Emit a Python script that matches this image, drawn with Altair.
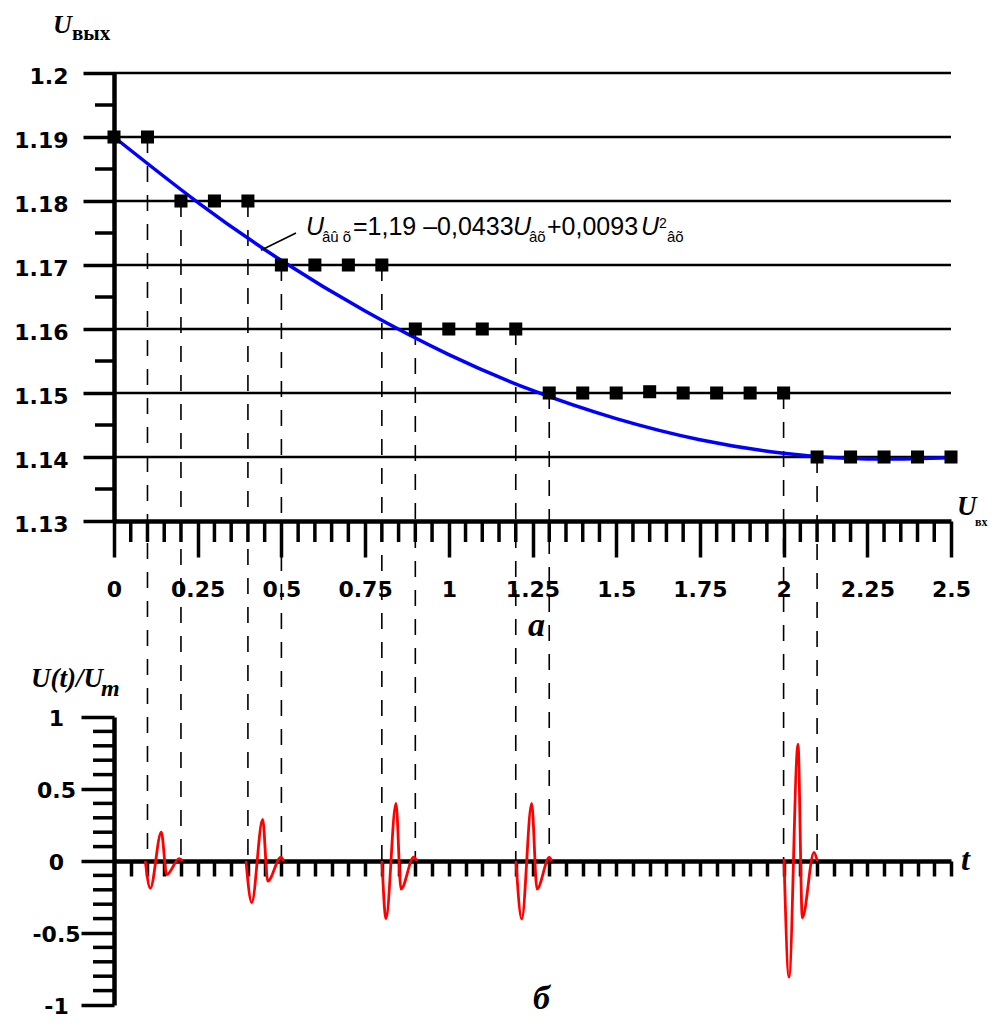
import altair as alt
import pandas as pd

# ---------------- data ----------------
u_in = [0, 0.1, 0.2, 0.3, 0.4, 0.5, 0.6, 0.7, 0.8, 0.9, 1.0, 1.1, 1.2,
        1.3, 1.4, 1.5, 1.6, 1.7, 1.8, 1.9, 2.0, 2.1, 2.2, 2.3, 2.4, 2.5]
u_out = [1.19, 1.19, 1.18, 1.18, 1.18, 1.17, 1.17, 1.17, 1.17, 1.16, 1.16, 1.16, 1.16,
         1.15, 1.15, 1.15, 1.1502, 1.15, 1.15, 1.15, 1.15, 1.14, 1.14, 1.14, 1.14, 1.14]

# fitted curve
fit_x = [0, 0.25, 0.5, 0.75, 1.0, 1.25, 1.5, 1.75, 2.0, 2.25, 2.5]
fit_y = [1.19, 1.1798, 1.1707, 1.1628, 1.1560, 1.1504, 1.1460, 1.1427, 1.1406, 1.1397, 1.1399]

grid_y = [1.14, 1.15, 1.16, 1.17, 1.18, 1.19, 1.2]

dash_x = [0.1, 0.2, 0.4, 0.5, 0.8, 0.9, 1.2, 1.3, 2.0, 2.1]
dash_y = [1.19, 1.18, 1.18, 1.17, 1.17, 1.16, 1.16, 1.15, 1.15, 1.14]

leader_x = [0.439, 0.5436]
leader_y = [1.1723, 1.175]

# pulses U(t)/Um
p1_t = [0.0935, 0.1084, 0.1413, 0.1574, 0.1950, 0.2052]
p1_v = [0.0, -0.19, 0.20, -0.095, 0.016, 0.0]
p2_t = [0.3943, 0.4113, 0.4441, 0.4591, 0.4988, 0.5069]
p2_v = [0.0, -0.289, 0.289, -0.14, 0.027, 0.0]
p3_t = [0.8005, 0.8124, 0.8423, 0.8572, 0.8952, 0.9050]
p3_v = [0.0, -0.40, 0.40, -0.195, 0.027, 0.0]
p4_t = [1.2007, 1.2178, 1.2476, 1.2634, 1.3002, 1.3073]
p4_v = [0.0, -0.403, 0.40, -0.195, 0.025, 0.0]
p5_t = [2.0012, 2.0161, 2.0430, 2.0559, 2.0908, 2.1007]
p5_v = [0.016, -0.807, 0.811, -0.395, 0.06, 0.0]

# tick values
ytop_major = [1.13, 1.14, 1.15, 1.16, 1.17, 1.18, 1.19, 1.2]
ytop_minor = [1.135, 1.145, 1.155, 1.165, 1.175, 1.185, 1.195]
x_major = [0, 0.25, 0.5, 0.75, 1.0, 1.25, 1.5, 1.75, 2.0, 2.25, 2.5]
x_all = [round(i * 0.05, 2) for i in range(51)]
x_minor = [v for v in x_all if round(v * 20) % 5 != 0]
yb_major = [-1, -0.5, 0, 0.5, 1]
yb_minor = [-0.9, -0.8, -0.7, -0.6, -0.4, -0.3, -0.2, -0.1,
            0.1, 0.2, 0.3, 0.4, 0.6, 0.7, 0.8, 0.9]

# ---------------- layout ----------------
W = 837
TOP_H = 448
BOT_H = 288
GAP = 196

LAB_FONT = "DejaVu Sans"
SERIF = "Liberation Serif"
SANS = "Liberation Sans"

pts = pd.DataFrame({"x": u_in, "y": u_out})
fit = pd.DataFrame({"x": fit_x, "y": fit_y})
grid = pd.DataFrame({"y": grid_y})
dashes = pd.DataFrame({"x": dash_x, "y": dash_y})
leader = pd.DataFrame({"x": leader_x, "y": leader_y})
pulses = pd.concat([
    pd.DataFrame({"x": t, "y": v, "p": i})
    for i, (t, v) in enumerate([(p1_t, p1_v), (p2_t, p2_v), (p3_t, p3_v),
                                (p4_t, p4_v), (p5_t, p5_v)])
])
one = pd.DataFrame({"k": [0]})

xtop_axis = alt.Axis(
    values=x_major, title=None, grid=False,
    domainColor="black", domainWidth=4.5,
    tickColor="black", tickWidth=3.5, tickSize=36,
    labelExpr="toString(round(datum.value*100)/100)",
    labelFont=LAB_FONT, labelFontWeight="bold", labelFontSize=22, labelColor="black",
    labelPadding=22, labelOverlap=False, labelFlush=False, labelBaseline="top",
)
ytop_axis = alt.Axis(
    values=ytop_major, title=None, grid=False,
    domainColor="black", domainWidth=4.5,
    tickColor="black", tickWidth=3.5, tickSize=31,
    labelExpr="toString(round(datum.value*100)/100)",
    labelFont=LAB_FONT, labelFontWeight="bold", labelFontSize=22, labelColor="black",
    labelPadding=15, labelOverlap=False, labelFlush=False, labelBaseline="middle",
    labelOffset=3,
)

xt = alt.X("x:Q", scale=alt.Scale(domain=[0, 2.5], nice=False, zero=False), axis=xtop_axis)
yt = alt.Y("y:Q", scale=alt.Scale(domain=[1.13, 1.2], nice=False, zero=False), axis=ytop_axis)


def label(text, x, y, size, font, style="normal", weight="normal", align="left"):
    return alt.Chart(one).mark_text(
        text=text, x=x, y=y, fontSize=size, font=font, fontStyle=style,
        fontWeight=weight, align=align, baseline="alphabetic", color="black",
    )


ytop_minor_layer = alt.Chart(pd.DataFrame({"y": ytop_minor})).mark_rule(
    color="black", strokeWidth=3.5
).encode(y=yt, x=alt.value(-19), x2=alt.value(0))
xtop_minor_layer = alt.Chart(pd.DataFrame({"x": x_minor})).mark_rule(
    color="black", strokeWidth=3.5
).encode(x=xt, y=alt.value(TOP_H), y2=alt.value(TOP_H + 21))

grid_layer = alt.Chart(grid).mark_rule(color="black", strokeWidth=2.5).encode(y=yt)
dash_layer = alt.Chart(dashes).mark_rule(
    color="black", strokeWidth=1.6, strokeDash=[16, 13]
).encode(x=xt, y=yt, y2=alt.value(TOP_H + GAP + BOT_H / 2))
fit_layer = alt.Chart(fit).mark_line(color="#0000ff", strokeWidth=3.5, interpolate="natural").encode(x=xt, y=yt)
pts_layer = alt.Chart(pts).mark_square(size=170, color="black", opacity=1).encode(x=xt, y=yt)
leader_layer = alt.Chart(leader).mark_line(color="black", strokeWidth=1.5).encode(x=xt, y=yt)

eq = [
    label("U", 192, 162, 25, SANS, style="italic"),
    label("âû õ", 208, 169, 15, SANS),
    label("=1,19 –0,0433", 239, 162, 25, SANS),
    label("U", 399, 162, 25, SANS, style="italic"),
    label("âõ", 415, 169, 15, SANS),
    label("+0,0093", 433, 162, 25, SANS),
    label("U", 527, 162, 25, SANS, style="italic"),
    label("2", 545, 155, 14, SANS),
    label("âõ", 553, 169, 15, SANS),
]
top_titles = [
    label("U", -61, -40, 26, SERIF, style="italic", weight="bold"),
    label("вых", -42, -33, 21, SERIF, weight="bold"),
    label("U", 843, 442, 27, SERIF, style="italic", weight="bold"),
    label("вх", 861, 453, 12, SERIF, weight="bold"),
    label("а", 414, 563, 34, SERIF, style="italic", weight="bold"),
]

top = alt.layer(
    grid_layer, ytop_minor_layer, xtop_minor_layer, dash_layer, fit_layer,
    pts_layer, leader_layer, *eq, *top_titles
).properties(width=W, height=TOP_H)

# ---------------- bottom panel ----------------
xb_axis = alt.Axis(
    values=x_all[1:], orient="bottom", offset=-BOT_H / 2, title=None, labels=False,
    grid=False, domainColor="black", domainWidth=4.5,
    tickColor="black", tickWidth=3.5, tickSize=15,
)
yb_axis = alt.Axis(
    values=yb_major, title=None, grid=False,
    domainColor="black", domainWidth=4.5,
    tickColor="black", tickWidth=3.5, tickSize=33,
    labelExpr="toString(round(datum.value*10)/10)",
    labelFont=LAB_FONT, labelFontWeight="bold", labelFontSize=22, labelColor="black",
    labelPadding=25, labelOverlap=False, labelFlush=False, labelBaseline="middle",
    labelAlign="center", labelOffset=1,
)
xb = alt.X("x:Q", scale=alt.Scale(domain=[0, 2.5], nice=False, zero=False), axis=xb_axis)
yb = alt.Y("y:Q", scale=alt.Scale(domain=[-1, 1], nice=False, zero=False), axis=yb_axis)

yb_minor_layer = alt.Chart(pd.DataFrame({"y": yb_minor})).mark_rule(
    color="black", strokeWidth=3.5
).encode(y=yb, x=alt.value(-21), x2=alt.value(0))

pulse_layer = alt.Chart(pulses).mark_line(
    color="#ff0000", strokeWidth=2.8, interpolate="monotone"
).encode(x=xb, y=yb, detail="p:N")

bot_titles = [
    label("U(t)/U", -83, -30, 27, SERIF, style="italic", weight="bold"),
    label("m", -13, -21, 24, SERIF, style="italic", weight="bold"),
    label("t", 847, 153, 32, SERIF, style="italic", weight="bold"),
    label("б", 419, 292, 34, SERIF, style="italic", weight="bold"),
]

bottom = alt.layer(yb_minor_layer, pulse_layer, *bot_titles).properties(width=W, height=BOT_H)

chart = alt.vconcat(top, bottom, spacing=GAP, bounds="flush").properties(
    padding={"left": 5, "top": 4, "right": 0, "bottom": 0},
    background="white",
).configure_view(strokeWidth=0)

chart.save("out.html", embed_options={"renderer": "svg", "actions": False})
